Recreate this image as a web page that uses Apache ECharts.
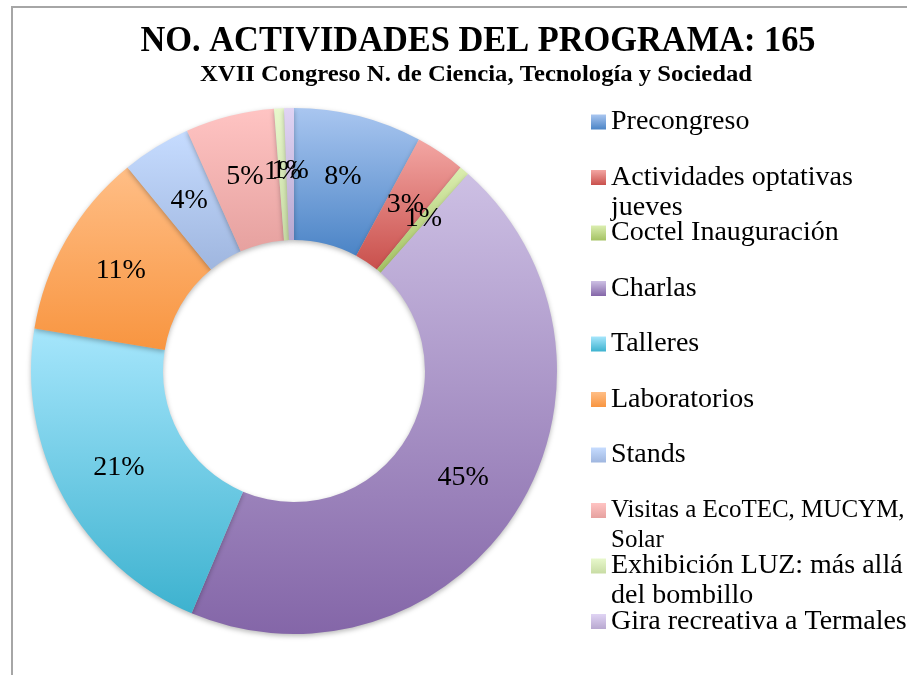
<!DOCTYPE html>
<html><head><meta charset="utf-8">
<script src="https://cdn.jsdelivr.net/npm/echarts@6/dist/echarts.min.js"></script>
<style>html,body{margin:0;padding:0;background:#fff}#c{width:907px;height:675px}</style>
</head><body><div id="c"></div>
<script>
const titleText = 'NO. ACTIVIDADES DEL PROGRAMA: 165';
const subtitleText = 'XVII Congreso N. de Ciencia, Tecnología y Sociedad';
const categories = ['Precongreso', 'Actividades optativas jueves', 'Coctel Inauguración', 'Charlas', 'Talleres', 'Laboratorios', 'Stands', 'Visitas a EcoTEC, MUCYM, Solar', 'Exhibición LUZ: más allá del bombillo', 'Gira recreativa a Termales'];
const legendLabels = ['Precongreso', 'Actividades optativas\njueves', 'Coctel Inauguración', 'Charlas', 'Talleres', 'Laboratorios', 'Stands', 'Visitas a EcoTEC, MUCYM,\nSolar', 'Exhibición LUZ: más allá\ndel bombillo', 'Gira recreativa a Termales'];
const values = [13, 5, 1, 74, 35, 19, 7, 9, 1, 1];
const topColors = ['#a9c6f0', '#f3a6a3', '#dbeeb0', '#cdc0e4', '#a6e6fc', '#ffbe86', '#c6dcff', '#ffc4c3', '#e8f8cc', '#e0d4f4'];
const bottomColors = ['#4b84c6', '#c9504c', '#a4c263', '#8466a8', '#3db2cf', '#f89540', '#9fb6df', '#e6a19f', '#c8dca4', '#b8a8d0'];

const serif = '"Liberation Serif", "Times New Roman", serif';
function fitScale(text, font, target) {
  const ctx = document.createElement('canvas').getContext('2d');
  ctx.font = font;
  return target / ctx.measureText(text).width;
}
const titleFont = 'bold 36px "Liberation Serif"';
const subFont = 'bold 23px "Liberation Serif"';
const titleScale = fitScale(titleText, titleFont, 675);
const subScale = fitScale(subtitleText, subFont, 552);

const chart = echarts.init(document.getElementById('c'), null, {renderer: 'canvas'});
const grad = (i) => new echarts.graphic.LinearGradient(0, 0, 0, 1, [
  {offset: 0, color: topColors[i]}, {offset: 1, color: bottomColors[i]}
]);
const isTwoLine = (i) => legendLabels[i].indexOf('\n') >= 0;

chart.setOption({
  animation: false,
  backgroundColor: '#ffffff',
  graphic: [
    {type: 'rect', z: -10, shape: {x: 12, y: 7, width: 1000, height: 1000},
     style: {fill: 'none', stroke: '#a6a6a6', lineWidth: 2}},
    {type: 'text', x: 478, y: 41.5, scaleX: titleScale,
     style: {text: titleText, fill: '#000', font: titleFont, textAlign: 'center', textVerticalAlign: 'middle'}},
    {type: 'text', x: 476, y: 75.5, scaleX: subScale,
     style: {text: subtitleText, fill: '#000', font: subFont, textAlign: 'center', textVerticalAlign: 'middle'}}
  ],
  legend: {
    orient: 'vertical',
    left: 591,
    top: 77,
    padding: 0,
    itemGap: -34.5,
    itemWidth: 15,
    itemHeight: 15,
    icon: 'rect',
    selectedMode: false,
    formatter: (name) => {
      const i = categories.indexOf(name);
      return isTwoLine(i) ? '\n' + legendLabels[i] : legendLabels[i];
    },
    textStyle: {fontFamily: serif, fontSize: 28, color: '#000', lineHeight: 30},
    data: categories.map((c, i) => ({
      name: c,
      itemStyle: {shadowBlur: 0, shadowOffsetY: 0, shadowColor: 'transparent'},
      textStyle: isTwoLine(i)
        ? (i === 7 ? {fontSize: 25} : {})
        : {padding: [30, 0, 30, 0]}
    }))
  },
  series: [{
    type: 'pie',
    center: [294, 371],
    radius: [131, 263],
    startAngle: 90,
    clockwise: true,
    percentPrecision: 0,
    minShowLabelAngle: 0,
    avoidLabelOverlap: false,
    labelLayout: {hideOverlap: false},
    label: {show: true, position: 'inside', formatter: '{d}%', fontFamily: serif, fontSize: 28, color: '#000', overflow: 'none'},
    labelLine: {show: false},
    emphasis: {disabled: true},
    itemStyle: {borderWidth: 0, shadowBlur: 5, shadowOffsetY: 2, shadowColor: 'rgba(0,0,0,0.28)'},
    data: categories.map((c, i) => ({name: c, value: values[i], itemStyle: {color: grad(i)}}))
  }]
});
</script>
</body></html>
